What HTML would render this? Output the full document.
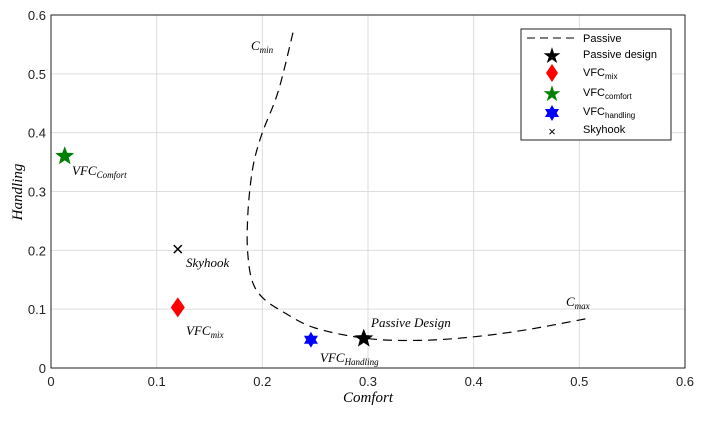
<!DOCTYPE html>
<html><head><meta charset="utf-8"><style>
body{margin:0;background:#fff;}
svg text{font-family:"Liberation Sans",sans-serif;}
svg .it, svg .it text{font-family:"Liberation Serif",serif;font-style:italic;}
</style></head><body>
<svg id="chart" width="702" height="416" xmlns="http://www.w3.org/2000/svg">
<g id="grid"></g>
<g id="ticks"></g>
<g id="marks"></g>
<rect x="51" y="15" width="634" height="353" fill="none" stroke="#222" stroke-width="1"/>
<text class="it" x="368" y="402" font-size="15" text-anchor="middle">Comfort</text>
<text class="it" transform="translate(22,192) rotate(-90)" font-size="15" text-anchor="middle">Handling</text>
<g id="annot" class="it" font-size="13">
<text x="251" y="50">C<tspan font-size="9" dy="3">min</tspan></text>
<text x="566" y="306">C<tspan font-size="9" dy="3">max</tspan></text>
<text x="72" y="175">VFC<tspan font-size="9" dy="3">Comfort</tspan></text>
<text x="186" y="267">Skyhook</text>
<text x="186" y="335">VFC<tspan font-size="9" dy="3">mix</tspan></text>
<text x="320" y="362">VFC<tspan font-size="9" dy="3">Handling</tspan></text>
<text x="371" y="327">Passive Design</text>
</g>
<g>
<rect x="521" y="29" width="150" height="111" fill="#fff" stroke="#222"/>
<line x1="527" y1="38" x2="578" y2="38" stroke="#000" stroke-dasharray="8,5"/>
<text x="583" y="42" font-size="11">Passive</text>
<text x="552" y="63" font-size="22" text-anchor="middle">★</text>
<text x="583" y="58" font-size="11">Passive design</text>
<polygon points="552,64 558,73 552,82 546,73" fill="#f00"/>
<text x="583" y="76" font-size="11">VFC<tspan font-size="8" dy="3">mix</tspan></text>
<text x="552" y="101" font-size="22" text-anchor="middle" fill="#008000">★</text>
<text x="583" y="96" font-size="11">VFC<tspan font-size="8" dy="3">comfort</tspan></text>
<g transform="translate(552,113)"><polygon points="0,-8 7,4 -7,4" fill="#00f"/><polygon points="0,8 7,-4 -7,-4" fill="#00f"/></g>
<text x="583" y="115" font-size="11">VFC<tspan font-size="8" dy="3">handling</tspan></text>
<text x="552" y="136" font-size="13" text-anchor="middle">×</text>
<text x="583" y="133" font-size="11">Skyhook</text>
</g>
</svg>
<script>
const xTicks=[0,0.1,0.2,0.3,0.4,0.5,0.6];
const yTicks=[0,0.1,0.2,0.3,0.4,0.5,0.6];
const curveX=[0.229,0.215,0.2,0.192,0.188,0.186,0.186,0.19,0.2,0.22,0.25,0.3,0.35,0.4,0.45,0.51];
const curveY=[0.57,0.47,0.4,0.35,0.3,0.25,0.2,0.15,0.12,0.095,0.068,0.05,0.047,0.053,0.065,0.085];
const pointNames=['passive-design','vfc-mix','vfc-comfort','vfc-handling','skyhook'];
const pointX=[0.296,0.12,0.013,0.246,0.12];
const pointY=[0.05,0.103,0.36,0.048,0.202];
const X0=51,X1=685,Y0=368,Y1=15;
const sx=v=>X0+(v-0)/0.6*(X1-X0);
const sy=v=>Y0-(v-0)/0.6*(Y0-Y1);
const NS='http://www.w3.org/2000/svg';
function mk(tag,attrs,parent){const e=document.createElementNS(NS,tag);for(const k in attrs)e.setAttribute(k,attrs[k]);parent.appendChild(e);return e;}
const grid=document.getElementById('grid'),ticks=document.getElementById('ticks'),marks=document.getElementById('marks');
xTicks.forEach(t=>{
 const l=mk('line',{x1:sx(t),x2:sx(t),y1:Y1,y2:Y0,stroke:'#ddd'},grid);
 
 
 const tx=mk('text',{x:sx(t),y:Y0+18,'font-size':13,'text-anchor':'middle',fill:'#222'},ticks);
 tx.textContent=String(t);
 
 
});
yTicks.forEach(t=>{
 const l=mk('line',{x1:X0,x2:X1,y1:sy(t),y2:sy(t),stroke:'#ddd'},grid);
 
 
 const tx=mk('text',{x:X0-5,y:sy(t)+5,'font-size':13,'text-anchor':'end',fill:'#222'},ticks);
 tx.textContent=String(t);
 
 
});
const P=curveX.map((x,i)=>[sx(x),sy(curveY[i])]);
let d='M'+P[0][0]+','+P[0][1];
for(let i=0;i<P.length-1;i++){
 const p0=P[Math.max(i-1,0)],p1=P[i],p2=P[i+1],p3=P[Math.min(i+2,P.length-1)];
 const c1=[p1[0]+(p2[0]-p0[0])/6,p1[1]+(p2[1]-p0[1])/6],c2=[p2[0]-(p3[0]-p1[0])/6,p2[1]-(p3[1]-p1[1])/6];
 d+=`C${c1[0]},${c1[1]} ${c2[0]},${c2[1]} ${p2[0]},${p2[1]}`;
}
const p=mk('path',{d:d,fill:'none',stroke:'#000','stroke-width':1.2,'stroke-dasharray':'9,6'},marks);


function star(cx,cy,r,fill){let pts=[];for(let i=0;i<10;i++){const a=-Math.PI/2+i*Math.PI/5,rr=i%2?r*0.42:r;pts.push((cx+rr*Math.cos(a))+','+(cy+rr*Math.sin(a)));}return mk('polygon',{points:pts.join(' '),fill:fill},marks);}
pointNames.forEach((n,i)=>{
 const cx=sx(pointX[i]),cy=sy(pointY[i]);let e;
 if(n==='passive-design')e=star(cx,cy,10,'#000');
 else if(n==='vfc-comfort')e=star(cx,cy,10,'#008000');
 else if(n==='vfc-mix')e=mk('polygon',{points:`${cx},${cy-10} ${cx+7},${cy} ${cx},${cy+10} ${cx-7},${cy}`,fill:'#f00'},marks);
 else if(n==='vfc-handling'){e=mk('g',{},marks);mk('polygon',{points:`${cx},${cy-8} ${cx+7},${cy+4} ${cx-7},${cy+4}`,fill:'#00f'},e);mk('polygon',{points:`${cx},${cy+8} ${cx+7},${cy-4} ${cx-7},${cy-4}`,fill:'#00f'},e);}
 else e=mk('path',{d:`M${cx-4},${cy-4}L${cx+4},${cy+4}M${cx-4},${cy+4}L${cx+4},${cy-4}`,stroke:'#000','stroke-width':1.5},marks);
 
 
});
</script>
</body></html>
